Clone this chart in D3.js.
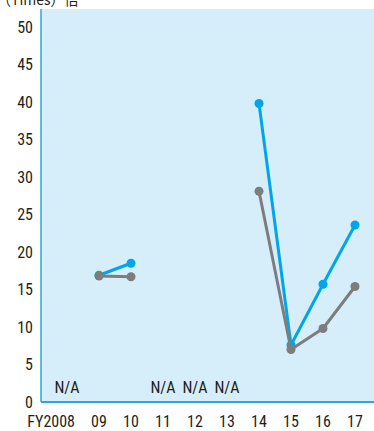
<!DOCTYPE html>
<html><head><meta charset="utf-8">
<script src="https://cdn.jsdelivr.net/npm/d3@7"></script>
<style>
html,body{margin:0;padding:0;background:#fff;}
svg{display:block;font-family:"Liberation Sans Narrow","Roboto Condensed","Liberation Sans",Arial,sans-serif;}
</style></head><body>
<svg id="c" width="374" height="431"></svg>
<script>
const categories = ["2008","09","10","11","12","13","14","15","16","17"];
const tickLabels = ["FY2008","09","10","11","12","13","14","15","16","17"];
const blueSeries = [null,16.9,18.5,null,null,null,39.8,7.6,15.7,23.6];
const graySeries = [null,16.8,16.7,null,null,null,28.1,7.0,9.8,15.4];
const naLabels = ["2008","11","12","13"];
const yTicks = [0,5,10,15,20,25,30,35,40,45,50];

const svg = d3.select("#c");
const plot = {left:41, right:374, top:9, bottom:402};
const x = d3.scalePoint().domain(categories).range([67,355]);
const y = d3.scaleLinear().domain([0,52.4]).range([plot.bottom, plot.top]);

svg.append("rect").attr("x",plot.left).attr("y",plot.top)
  .attr("width",plot.right-plot.left).attr("height",plot.bottom-plot.top)
  .attr("fill","#d6edfa");

svg.append("line").attr("x1",plot.left).attr("x2",plot.left).attr("y1",plot.top).attr("y2",plot.bottom)
  .attr("stroke","#29a8e0").attr("stroke-width",1.5);
svg.append("line").attr("x1",plot.left).attr("x2",plot.right).attr("y1",plot.bottom).attr("y2",plot.bottom)
  .attr("stroke","#29a8e0").attr("stroke-width",2);

const fs = 16;
// y tick labels
svg.append("g").selectAll("text").data(yTicks).join("text")
  .attr("x",33).attr("y",d=>y(d)).attr("dy","0.36em")
  .attr("text-anchor","end").attr("font-size",fs).attr("fill","#231f20")
  .text(d=>d);

// x tick labels
svg.append("g").selectAll("text").data(categories).join("text")
  .attr("x",(d,i)=> i===0 ? x(d)+8 : x(d))
  .attr("y",427)
  .attr("text-anchor",(d,i)=> i===0 ? "end" : "middle")
  .attr("font-size",fs).attr("fill","#231f20")
  .text((d,i)=>tickLabels[i]);

// N/A labels
svg.append("g").selectAll("text").data(naLabels).join("text")
  .attr("x",d=>x(d)).attr("y",393).attr("text-anchor","middle")
  .attr("font-size",fs).attr("fill","#231f20").text("N/A");

// title
svg.append("text").attr("x",-3).attr("y",5).attr("font-size",14).attr("fill","#231f20")
  .attr("font-family","'Noto Sans CJK JP','Liberation Sans Narrow',sans-serif")
  .text("（Times）倍");

function drawSeries(vals,color){
  const line = d3.line().defined(d=>d!=null).x((d,i)=>x(categories[i])).y(d=>y(d));
  const data = vals.map((v,i)=>({v,i}));
  svg.append("path").datum(vals).attr("fill","none").attr("stroke",color)
    .attr("stroke-width",3).attr("stroke-linejoin","round").attr("d",line);
  svg.append("g").selectAll("circle").data(data.filter(d=>d.v!=null)).join("circle")
    .attr("cx",d=>x(categories[d.i])).attr("cy",d=>y(d.v)).attr("r",4.5).attr("fill",color);
}
drawSeries(blueSeries,"#00a6e8");
drawSeries(graySeries,"#7d7d7e");
</script>
</body></html>
